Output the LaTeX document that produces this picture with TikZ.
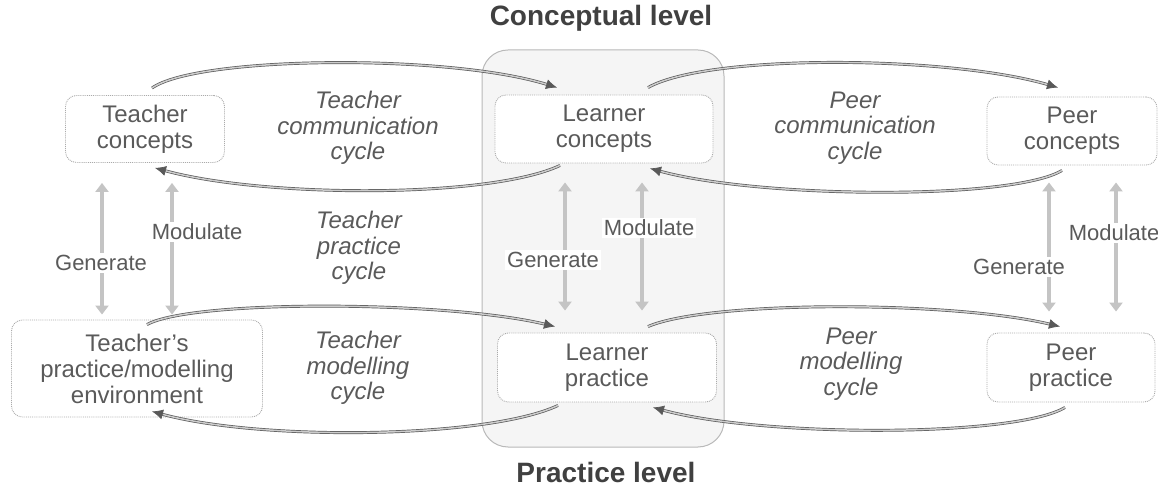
\documentclass[tikz,border=0pt]{standalone}
\usepackage{fontspec}
\setmainfont{Liberation Sans}
\usetikzlibrary{arrows.meta}
\definecolor{txt}{HTML}{5A5A5A}
\definecolor{boxline}{HTML}{AAAAAA}
\definecolor{vert}{HTML}{C4C4C4}
\tikzset{
  conc/.style={draw=boxline, densely dotted, line width=0.9pt, rounded corners=11pt, fill=white,
    text=txt, align=center, font=\fontsize{24}{26}\selectfont, inner sep=0pt},
  cyc/.style={draw=gray!70!black, double=gray!40, double distance=1.5pt, line width=0.7pt,
    -{Latex[length=11pt,width=10pt]}},
  vertarrow/.style={draw=vert, line width=3.8pt, {Triangle[length=9pt,width=13pt]}-{Triangle[length=9pt,width=13pt]}},
  lab/.style={text=txt, font=\fontsize{22}{24}\selectfont, fill=white, inner sep=2pt},
  cyclab/.style={text=txt, align=center, font=\fontsize{24}{25.5}\selectfont\itshape},
  title/.style={text=black!75, font=\fontsize{28}{30}\selectfont\bfseries, inner sep=0pt}
}
\begin{document}
\begin{tikzpicture}[x=1pt,y=1pt]
\useasboundingbox (0,0) rectangle (1158,487);
% big practice/conceptual band
\draw[draw=gray!55, line width=1pt, fill=black!4, rounded corners=26pt] (482,40) rectangle (724,437);
\node[title] (tconc) at (601,469) {Conceptual level};
\node[title, anchor=base] (tprac) at (606,5) {Practice level};
% nodes
\node[conc, minimum width=159pt, minimum height=67pt] (tc) at (145,358) {Teacher\\concepts};
\node[conc, minimum width=218pt, minimum height=68pt] (lc) at (604,358) {Learner\\concepts};
\node[conc, minimum width=170pt, minimum height=68pt] (pc) at (1072,356) {Peer\\concepts};
\node[conc, minimum width=251pt, minimum height=97pt] (tp) at (137,118.5) {Teacher's\\practice/modelling\\environment};
\node[conc, minimum width=219pt, minimum height=69pt] (lp) at (607,119.5) {Learner\\practice};
\node[conc, minimum width=168pt, minimum height=69pt] (pp) at (1071,119.5) {Peer\\practice};
% vertical generate / modulate arrows
\draw[vertarrow, shorten <=20pt, shorten >=5pt] ([xshift=-43pt]tc.south) -- ([xshift=-43pt]tc.south |- tp.north);
\draw[vertarrow, shorten <=20pt, shorten >=5pt] ([xshift=27pt]tc.south) -- ([xshift=27pt]tc.south |- tp.north);
\draw[vertarrow, shorten <=19pt, shorten >=22pt] ([xshift=-39pt]lc.south) -- ([xshift=-39pt]lc.south |- lp.north);
\draw[vertarrow, shorten <=19pt, shorten >=22pt] ([xshift=38pt]lc.south) -- ([xshift=38pt]lc.south |- lp.north);
\draw[vertarrow, shorten <=17pt, shorten >=21pt] ([xshift=-23pt]pc.south) -- ([xshift=-23pt]pc.south |- pp.north);
\draw[vertarrow, shorten <=17pt, shorten >=21pt] ([xshift=44pt]pc.south) -- ([xshift=44pt]pc.south |- pp.north);
\node[lab] (g1) at (101,224) {Generate};
\node[lab] (m1) at (197,255) {Modulate};
\node[lab] (g2) at (553,227) {Generate};
\node[lab] (m2) at (649,259) {Modulate};
\node[lab] (g3) at (1019,220) {Generate};
\node[lab] (m3) at (1114,254) {Modulate};
% cycle labels
\node[cyclab] (l1) at (358,359) {Teacher\\communication\\cycle};
\node[cyclab] (l2) at (855,359) {Peer\\communication\\cycle};
\node[cyclab] (l3) at (359,239) {Teacher\\practice\\cycle};
\node[cyclab] (l4) at (358,119) {Teacher\\modelling\\cycle};
\node[cyclab] (l5) at (851,123) {Peer\\modelling\\cycle};
% conceptual cycles
\draw[cyc] ([shift={(7,7)}]tc.north) .. controls +(45,32) and +(-110,34) .. ([shift={(-47,7)}]lc.north);
\draw[cyc] ([shift={(-44,-2)}]lc.south) .. controls +(-70,-33) and +(110,-30) .. ([shift={(10,-5)}]tc.south);
\draw[cyc] ([shift={(44,7)}]lc.north) .. controls +(60,34) and +(-110,32) .. ([shift={(-14,9)}]pc.north);
\draw[cyc] ([shift={(-10,-5)}]pc.south) .. controls +(-50,-30) and +(110,-30) .. ([shift={(46,-5)}]lc.south);
% practice cycles
\draw[cyc] ([shift={(10,-5)}]tp.north) .. controls +(45,25) and +(-110,26) .. ([shift={(-52,6)}]lp.north);
\draw[cyc] ([shift={(-49,-3)}]lp.south) .. controls +(-70,-33) and +(110,-30) .. ([shift={(15,6)}]tp.south);
\draw[cyc] ([shift={(41,6)}]lp.north) .. controls +(60,26) and +(-110,26) .. ([shift={(-11,6)}]pp.north);
\draw[cyc] ([shift={(-6,-5)}]pp.south) .. controls +(-50,-30) and +(110,-30) .. ([shift={(46,-5)}]lp.south);
\end{tikzpicture}
\end{document}
